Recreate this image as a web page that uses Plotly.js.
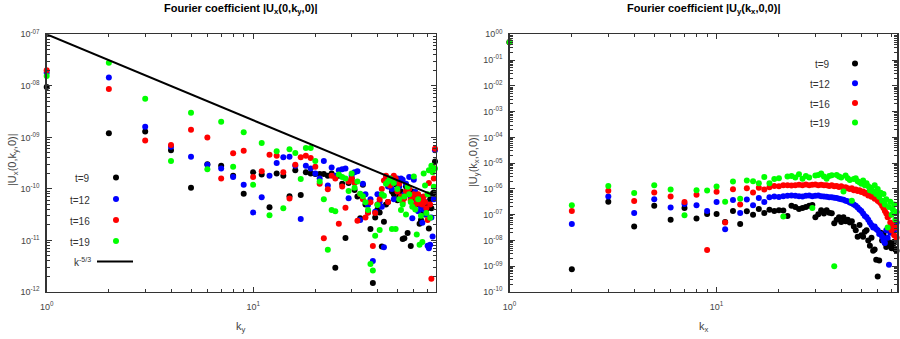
<!DOCTYPE html>
<html><head><meta charset="utf-8">
<script src="https://cdn.plot.ly/plotly-3.0.1.min.js"></script>
<style>html,body{margin:0;padding:0;background:#fff}#chart{width:900px;height:339px}</style>
</head><body><div id="chart"></div><script>
// ---------- data: left panel |Ux(0,ky,0)| vs ky ----------
const kLeft = [1,2,3,4,5,6,7,8,9,10,11,12,13,14,15,16,17,18,19,20,21,22,23,24,25,26,27,28,29,30,31,32,33,34,35,36,37,38,39,40,41,42,43,44,45,46,47,48,49,50,51,52,53,54,55,56,57,58,59,60,61,62,63,64,65,66,67,68,69,70,71,72,73,74,75,76];
const uxT9 = [9.5e-9,1.2e-9,1.3e-9,5.6e-10,1.05e-10,3.0e-10,2.8e-10,1.8e-10,8.1e-11,2.1e-10,1.9e-10,4.4e-11,2.0e-10,1.8e-10,7.2e-11,2.3e-10,7.6e-11,2.1e-10,2.0e-10,1.95e-10,1.95e-10,1.95e-10,1.8e-10,2.0e-10,2.95e-12,1.8e-10,1.26e-10,1.12e-11,1.3e-10,1.6e-10,9.5e-11,7.1e-11,2.7e-11,1.2e-10,5.0e-11,3.5e-11,1.66e-11,1.5e-12,2.8e-11,4.0e-11,3.5e-11,7.6e-12,2.3e-11,5.0e-11,5.6e-11,1.12e-10,8.9e-11,7.9e-11,1.23e-10,6.0e-11,7.1e-11,8.9e-11,1.07e-11,1.1e-11,1.12e-10,1.4e-11,7.9e-11,7.8e-12,8.9e-11,6.6e-11,7.9e-11,5.0e-11,6.3e-11,2.1e-11,2.5e-11,3.5e-11,5.0e-11,3.2e-11,4.0e-11,4.6e-11,1.7e-11,6.3e-11,4.2e-11,8.1e-11,8.5e-11,3.4e-10];
const uxT12 = [1.8e-8,1.45e-8,1.6e-9,6.6e-10,4.2e-10,2.95e-10,2.5e-10,1.7e-10,1.2e-10,3.5e-11,6.9e-11,1.8e-10,3.2e-10,4.1e-10,4.2e-10,2.8e-10,2.6e-11,2.8e-10,2.5e-10,2.0e-10,1.6e-10,3.5e-10,1.17e-10,2.6e-10,1.8e-10,2.3e-10,2.4e-10,2.5e-10,6.6e-11,1.8e-10,2.1e-10,2.2e-10,2.5e-11,1.26e-10,7.9e-11,4.9e-11,6.3e-11,4.0e-12,3.6e-11,7.9e-11,5.6e-11,4.5e-11,7.4e-12,1.6e-10,1.12e-10,1.6e-10,1.0e-10,6.3e-11,1.4e-10,1.6e-10,1.12e-10,1.6e-10,1.5e-10,7.9e-11,1.26e-10,1.0e-10,1.7e-10,7.1e-11,2.7e-11,1.5e-10,8.7e-11,5.6e-11,3.7e-11,7.1e-11,4.5e-11,2.2e-11,4.0e-11,5.6e-11,3.2e-11,7.9e-12,7.1e-12,8.3e-12,2.8e-11,1.2e-11,6.3e-11,5.6e-10];
const uxT16 = [2.0e-8,8.7e-9,8.7e-10,7.1e-10,1.4e-9,1.0e-9,1.6e-10,4.9e-10,5.5e-10,1.7e-10,2.2e-10,4.6e-10,4.4e-10,2.1e-10,6.5e-11,2.95e-10,4.1e-10,4.4e-10,4.0e-10,2.7e-10,1.26e-10,1.1e-11,9.8e-11,1.8e-10,1.6e-10,2.1e-11,1.12e-10,4.3e-11,1.4e-10,1.6e-10,1.3e-10,2.4e-11,7.9e-11,6.3e-11,2.8e-11,3.5e-11,5.5e-11,7.8e-12,3.4e-11,5.0e-11,6.3e-11,1.0e-10,1.45e-10,1.8e-10,5.6e-11,1.17e-10,1.4e-10,1.8e-10,1.6e-10,8.9e-11,1.26e-10,7.1e-11,5.6e-11,6.6e-11,8.9e-11,7.9e-11,1.0e-10,6.0e-11,7.1e-11,7.9e-11,5.0e-11,6.3e-11,7.9e-11,5.2e-11,6.3e-11,5.0e-11,7.1e-11,5.6e-11,4.2e-11,2.5e-11,1.3e-10,5.0e-11,1.8e-12,2.7e-10,1.6e-10,6.0e-10];
const uxT19 = [1.55e-8,2.8e-8,5.6e-9,3.5e-10,3.0e-9,2.4e-10,2.0e-9,2.7e-10,1.26e-9,1.2e-10,7.8e-10,3.1e-11,5.4e-10,4.2e-11,5.9e-10,5.0e-10,1.55e-10,6.2e-10,6.2e-10,3.5e-10,1.4e-10,6.3e-11,6.6e-12,3.9e-11,3.7e-11,1.9e-10,1.7e-10,1.6e-10,9.1e-11,2.0e-10,1.05e-10,1.4e-10,8.1e-11,7.2e-11,5.5e-11,3.9e-11,3.5e-12,2.6e-12,1.23e-11,4.9e-11,1.6e-11,7.9e-11,7.4e-11,1.26e-10,1.4e-10,1.6e-10,1.66e-11,1.3e-10,1.66e-11,1.0e-10,6.3e-11,3.9e-11,5.0e-11,7.1e-11,3.2e-11,1.1e-10,7.9e-11,5.6e-11,4.5e-11,1.74e-10,4.0e-11,1.3e-11,6.3e-11,8.3e-12,3.0e-11,9.3e-12,2.0e-10,1.17e-10,3.4e-11,7.9e-11,2.3e-10,2.75e-11,2.8e-10,2.1e-10,1.1e-10,2.5e-10];
// reference slope k^(-5/3) through 1e-7 at k=1
const slopeK = [1, 77];
const slopeAmp = 1e-7;

// ---------- data: right panel |Uy(kx,0,0)| vs kx ----------
const kRight = [1,2,3,4,5,6,7,8,9,10,11,12,13,14,15,16,17,18,19,20,21,22,23,24,25,26,27,28,29,30,31,32,33,34,35,36,37,38,39,40,41,42,43,44,45,46,47,48,49,50,51,52,53,54,55,56,57,58,59,60,61,62,63,64,65,66,67,68,69,70,71,72,73,74];
const uyT9 = [4.9e-1,7.6e-10,3.2e-7,3.5e-8,2.2e-7,6.3e-8,1.8e-7,7.1e-8,1.07e-7,1.07e-7,5.2e-8,1.4e-7,4.4e-8,1.35e-7,1.0e-7,1.66e-7,1.17e-7,1.55e-7,1.4e-7,1.5e-7,1.45e-7,8.9e-8,2.2e-7,2.0e-7,1.66e-7,1.8e-7,2.0e-7,2.2e-7,2.4e-7,7.9e-8,1.05e-7,1.5e-7,1.12e-7,1.5e-7,1.2e-7,1.15e-7,4.7e-8,6.3e-8,7.9e-8,5.2e-8,7.9e-8,5.6e-8,6.3e-8,5.0e-8,5.6e-8,3.5e-8,2.5e-8,1.4e-8,4.0e-8,1.6e-8,1.4e-8,2.2e-8,2.5e-8,1.0e-8,6.3e-9,1.26e-8,4.0e-9,4.5e-9,1.8e-9,4.0e-10,1.66e-9,2.0e-8,1.0e-8,1.8e-8,7.9e-9,5.6e-9,1.0e-8,7.1e-9,7.9e-9,5.0e-9,6.3e-9,8.9e-9,4.5e-9,4.0e-9];
const uyT12 = [4.9e-1,4.4e-8,5.1e-7,1.17e-7,4.0e-7,1.9e-7,2.6e-7,2.3e-7,1.4e-7,3.1e-7,2.75e-8,3.7e-7,1.17e-7,3.9e-7,2.3e-7,4.4e-7,3.1e-7,4.7e-7,5.1e-7,4.9e-7,5.2e-7,5.4e-7,5.5e-7,5.4e-7,5.2e-7,5.1e-7,5.4e-7,5.5e-7,5.2e-7,5.4e-7,5.5e-7,5.2e-7,5.1e-7,5.0e-7,4.8e-7,4.7e-7,4.5e-7,4.4e-7,4.2e-7,4.0e-7,3.8e-7,3.5e-7,3.3e-7,3.0e-7,2.8e-7,2.5e-7,2.2e-7,1.9e-7,1.6e-7,1.4e-7,1.12e-7,8.9e-8,7.9e-8,6.3e-8,5.0e-8,4.0e-8,3.2e-8,3.5e-8,2.8e-8,2.5e-8,1.8e-8,1.8e-8,1.4e-8,1.0e-8,7.9e-9,2.5e-8,1.26e-8,1.15e-9,2.0e-8,3.2e-8,4.0e-8,2.5e-8,3.5e-8,5.0e-8];
const uyT16 = [4.9e-1,1.4e-7,8.5e-7,3.4e-7,7.2e-7,5.1e-7,3.1e-7,6.0e-7,4.3e-9,7.8e-7,5.0e-8,9.8e-7,2.5e-7,1.07e-6,7.2e-7,1.1e-6,9.5e-7,1.17e-6,1.3e-6,1.26e-6,1.4e-6,1.4e-6,1.35e-6,1.4e-6,1.45e-6,1.4e-6,1.5e-6,1.4e-6,1.45e-6,1.5e-6,1.4e-6,1.45e-6,1.4e-6,1.4e-6,1.3e-6,1.4e-6,1.26e-6,1.3e-6,1.2e-6,1.26e-6,1.12e-6,1.17e-6,1.05e-6,1.0e-6,1.07e-6,8.9e-7,9.5e-7,8.3e-7,8.9e-7,7.6e-7,7.9e-7,6.6e-7,7.1e-7,5.6e-7,6.3e-7,5.0e-7,5.2e-7,4.2e-7,4.5e-7,3.5e-7,3.2e-7,2.8e-7,2.2e-7,1.8e-7,1.4e-7,1.12e-7,7.9e-8,8.9e-8,5.0e-8,2.5e-8,4.0e-8,1.6e-8,3.2e-8,1.26e-8];
const uyT19 = [4.9e-1,2.3e-7,1.3e-6,6.9e-7,1.4e-6,9.5e-7,9.5e-8,8.9e-7,8.7e-7,1.23e-6,3.2e-7,1.95e-6,4.2e-7,2.1e-6,2.0e-6,1.66e-6,2.9e-6,1.66e-6,2.4e-6,2.6e-6,8.5e-8,3.0e-6,3.2e-6,2.8e-6,3.7e-6,2.5e-6,3.2e-6,2.8e-6,1.8e-7,3.3e-6,3.5e-6,4.0e-6,3.0e-6,2.5e-6,3.2e-6,3.4e-6,1.0e-9,3.5e-6,3.0e-6,2.8e-6,7.9e-7,3.3e-6,2.6e-6,2.2e-6,3.5e-7,2.4e-6,2.6e-6,2.0e-6,1.8e-6,1.6e-6,2.1e-6,1.4e-6,1.66e-6,1.26e-6,8.9e-7,1.12e-6,7.9e-7,1.4e-6,6.3e-7,1.0e-6,5.0e-7,7.1e-7,3.5e-7,6.3e-7,2.5e-7,4.0e-7,3.2e-8,2.0e-7,3.2e-7,1.0e-7,1.6e-7,2.5e-7,6.3e-8,1.26e-7];

const seriesLabels = ['t=9', 't=12', 't=16', 't=19'];
const seriesColors = ['#000000', '#0000ff', '#ff0000', '#00ff00'];
const slopeLabel = 'k<sup>-5/3</sup>';

const yTickValsLeft = [1e-12, 1e-11, 1e-10, 1e-9, 1e-8, 1e-7];
const yTickTextLeft = ['10<sup>-12</sup>', '10<sup>-11</sup>', '10<sup>-10</sup>', '10<sup>-09</sup>', '10<sup>-08</sup>', '10<sup>-07</sup>'];
const yTickValsRight = [1e-10, 1e-9, 1e-8, 1e-7, 1e-6, 1e-5, 1e-4, 1e-3, 1e-2, 1e-1, 1];
const yTickTextRight = ['10<sup>-10</sup>', '10<sup>-09</sup>', '10<sup>-08</sup>', '10<sup>-07</sup>', '10<sup>-06</sup>', '10<sup>-05</sup>', '10<sup>-04</sup>', '10<sup>-03</sup>', '10<sup>-02</sup>', '10<sup>-01</sup>', '10<sup>00</sup>'];
const xTickVals = [1, 10];
const xTickText = ['10<sup>0</sup>', '10<sup>1</sup>'];

// ---------- layout helpers ----------
const W = 900, H = 339;
const px = v => v / W;
const py = v => 1 - v / H;
const FONT = 'Liberation Sans, Arial, Helvetica, sans-serif';

function minorVals(lo, hi) {
  const out = [];
  for (let d = lo; d < hi; d++) for (let m = 2; m <= 9; m++) out.push(m * Math.pow(10, d));
  return out;
}

function axis(domain, range, tv, tt, minors, anchor, standoff) {
  return {
    type: 'log', domain, range, anchor,
    tickmode: 'array', tickvals: tv, ticktext: tt,
    ticks: 'inside', ticklen: 5, tickwidth: 1, tickcolor: '#333',
    showline: true, linecolor: '#333', linewidth: 1.3, mirror: 'ticks',
    showgrid: false, zeroline: false,
    ticklabelstandoff: standoff,
    tickfont: {family: FONT, size: 9, color: '#444'},
    minor: {tickmode: 'array', tickvals: minors, ticks: 'inside', ticklen: 3, tickwidth: 1, tickcolor: '#333', showgrid: false}
  };
}

const leftSeries = [uxT9, uxT12, uxT16, uxT19];
const rightSeries = [uyT9, uyT12, uyT16, uyT19];
const traces = [];
leftSeries.forEach((ys, i) => traces.push({
  type: 'scatter', mode: 'markers', x: kLeft, y: ys, xaxis: 'x', yaxis: 'y',
  name: seriesLabels[i], showlegend: false, cliponaxis: false,
  marker: {color: seriesColors[i], size: 6, line: {width: 0}}
}));
traces.push({
  type: 'scatter', mode: 'lines', x: slopeK, y: slopeK.map(k => slopeAmp * Math.pow(k, -5 / 3)),
  xaxis: 'x', yaxis: 'y', showlegend: false, cliponaxis: true,
  line: {color: '#000', width: 2}
});
rightSeries.forEach((ys, i) => traces.push({
  type: 'scatter', mode: 'markers', x: kRight, y: ys, xaxis: 'x2', yaxis: 'y2',
  name: seriesLabels[i], showlegend: false, cliponaxis: false,
  marker: {color: seriesColors[i], size: 6, line: {width: 0}}
}));

const yDom = [1 - 292 / H, 1 - 34.3 / H];
const annotations = [];
const shapes = [];
function txt(x, y, text, opts) {
  annotations.push(Object.assign({xref: 'paper', yref: 'paper', x: px(x), y: py(y), text, showarrow: false,
    xanchor: 'center', yanchor: 'middle', font: {family: FONT, size: 10, color: '#333'}}, opts || {}));
}
// titles
txt(241, 9, '<b>Fourier coefficient |U<sub>x</sub>(0,k<sub>y</sub>,0)|</b>', {font: {family: FONT, size: 11, color: '#000'}});
txt(703.5, 9, '<b>Fourier coefficient |U<sub>y</sub>(k<sub>x</sub>,0,0)|</b>', {font: {family: FONT, size: 11, color: '#000'}});
// axis titles
txt(13, 160, '|U<sub>x</sub>(0,k<sub>y</sub>,0)|', {textangle: -90, font: {family: FONT, size: 11, color: '#444'}});
txt(474, 160, '|U<sub>y</sub>(k<sub>x</sub>,0,0)|', {textangle: -90, font: {family: FONT, size: 11, color: '#444'}});
txt(241, 327, 'k<sub>y</sub>', {font: {family: FONT, size: 11, color: '#444'}});
txt(703.5, 327, 'k<sub>x</sub>', {font: {family: FONT, size: 11, color: '#444'}});

// legends (text to the left of the key, like the original)
function dot(cx, cy, color) {
  shapes.push({type: 'circle', xref: 'paper', yref: 'paper', xsizemode: 'pixel', ysizemode: 'pixel',
    xanchor: px(cx), yanchor: py(cy), x0: -3, x1: 3, y0: -3, y1: 3,
    fillcolor: color, line: {width: 0}});
}
const leftLegY = [177.5, 199, 220, 241];
seriesLabels.forEach((s, i) => {
  txt(92, leftLegY[i] + 1, s, {xanchor: 'right'});
  dot(116, leftLegY[i], seriesColors[i]);
});
txt(93, 261.5, slopeLabel, {xanchor: 'right'});
shapes.push({type: 'line', xref: 'paper', yref: 'paper', x0: px(97), x1: px(133), y0: py(261.5), y1: py(261.5), line: {color: '#000', width: 2}});

const rightLegY = [63.5, 83.3, 103, 122.5];
seriesLabels.forEach((s, i) => {
  txt(832, rightLegY[i] + 1, s, {xanchor: 'right'});
  dot(855, rightLegY[i], seriesColors[i]);
});

const layout = {
  width: W, height: H, margin: {l: 0, r: 0, t: 0, b: 0},
  paper_bgcolor: '#fff', plot_bgcolor: '#fff', showlegend: false,
  xaxis: axis([46.7 / W, 435.7 / W], [0, Math.log10(76.6)], xTickVals, xTickText, minorVals(0, 2), 'y', 6),
  yaxis: axis(yDom, [-12, -7], yTickValsLeft, yTickTextLeft, minorVals(-12, -7), 'x', 4),
  xaxis2: axis([509.5 / W, 897.3 / W], [0, Math.log10(74.6)], xTickVals, xTickText, minorVals(0, 2), 'y2', 6),
  yaxis2: axis(yDom, [-10, 0], yTickValsRight, yTickTextRight, minorVals(-10, 0), 'x2', 4),
  annotations, shapes
};
Plotly.newPlot('chart', traces, layout, {staticPlot: true, displayModeBar: false});
</script></body></html>
